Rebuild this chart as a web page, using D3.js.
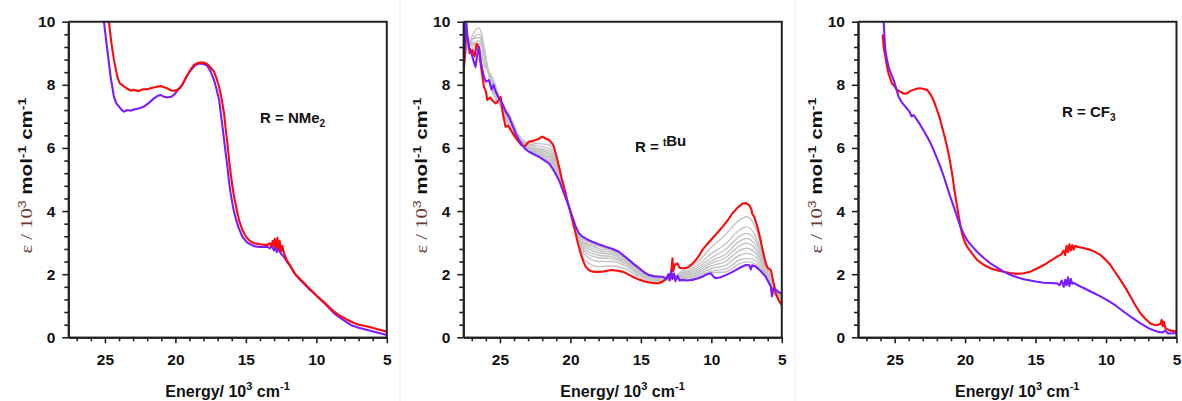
<!DOCTYPE html>
<html>
<head>
<meta charset="utf-8">
<script src="https://cdn.jsdelivr.net/npm/d3@7"></script>
<style>
  body { margin: 0; background: #fff; }
  svg { display: block; }
</style>
</head>
<body>
<svg id="chart" width="1182" height="401"></svg>
<script>
// ---- Absorption spectra: energy (10^3 cm^-1) vs epsilon (10^3 mol^-1 cm^-1) ----

// R = NMe2
const nme2Red = [[24.85,10.4],[24.72,10.0],[24.55,9.35],[24.36,8.79],[24.12,8.26],[23.95,8.05],[23.77,7.99],[23.5,7.9],[23.2,7.82],[22.94,7.84],[22.6,7.8],[22.3,7.86],[22.0,7.86],[21.7,7.9],[21.4,7.93],[21.05,7.96],[20.8,7.92],[20.57,7.89],[20.3,7.82],[20.1,7.81],[19.85,7.84],[19.63,7.92],[19.4,8.1],[19.15,8.31],[18.9,8.5],[18.68,8.63],[18.45,8.69],[18.2,8.71],[17.95,8.7],[17.73,8.65],[17.5,8.55],[17.26,8.42],[17.08,8.2],[16.9,7.94],[16.72,7.55],[16.55,7.1],[16.43,6.6],[16.31,6.15],[16.2,5.65],[16.08,5.2],[15.96,4.8],[15.84,4.46],[15.65,4.05],[15.49,3.72],[15.25,3.4],[15.0,3.19],[14.7,3.05],[14.42,2.98],[14.0,2.95],[13.7,2.93],[13.47,2.93],[13.3,2.98],[13.2,2.88],[13.1,3.05],[13.0,2.9],[12.95,3.12],[12.85,2.85],[12.76,3.15],[12.68,2.8],[12.6,3.05],[12.5,2.72],[12.42,2.9],[12.29,2.66],[12.1,2.45],[11.82,2.24],[11.5,2.0],[11.1,1.82],[10.5,1.55],[9.92,1.29],[9.3,1.05],[8.74,0.81],[8.2,0.65],[7.56,0.5],[7.0,0.4],[6.37,0.34],[5.7,0.26],[5.0,0.18]];
const nme2Violet = [[25.2,10.5],[25.07,10.0],[24.95,9.55],[24.83,9.1],[24.6,8.26],[24.36,7.62],[24.2,7.42],[24.0,7.31],[23.8,7.2],[23.65,7.15],[23.4,7.2],[23.2,7.18],[22.94,7.22],[22.6,7.25],[22.23,7.31],[21.9,7.42],[21.52,7.57],[21.25,7.65],[21.05,7.68],[20.8,7.62],[20.57,7.6],[20.3,7.62],[20.1,7.68],[19.8,7.85],[19.5,8.0],[19.2,8.28],[18.9,8.47],[18.6,8.62],[18.3,8.68],[18.0,8.66],[17.73,8.6],[17.5,8.42],[17.26,8.15],[17.08,7.86],[16.9,7.52],[16.75,7.0],[16.6,6.46],[16.45,5.9],[16.31,5.41],[16.2,4.95],[16.08,4.56],[15.9,4.1],[15.72,3.77],[15.5,3.45],[15.25,3.19],[14.9,3.0],[14.42,2.89],[14.0,2.86],[13.47,2.87],[13.3,2.82],[13.15,2.9],[13.0,2.75],[12.9,2.88],[12.8,2.7],[12.7,2.82],[12.53,2.66],[12.3,2.55],[12.1,2.4],[11.82,2.24],[11.5,2.0],[11.1,1.8],[10.5,1.52],[9.92,1.29],[9.3,1.02],[8.74,0.76],[8.2,0.58],[7.56,0.39],[7.0,0.3],[6.37,0.23],[5.7,0.15],[5.0,0.07]];

// R = tBu
const tbuRed = [[27.6,8.3],[27.5,8.8],[27.4,9.6],[27.3,9.5],[27.15,9.0],[26.96,9.1],[26.8,8.9],[26.65,9.3],[26.5,9.2],[26.35,8.6],[26.14,7.94],[26.0,7.8],[25.9,7.52],[25.7,7.6],[25.55,7.52],[25.3,7.41],[25.1,7.5],[24.95,7.62],[24.8,7.1],[24.6,6.67],[24.4,6.7],[24.24,6.57],[24.0,6.4],[23.77,6.25],[23.5,6.1],[23.3,6.04],[23.1,6.12],[22.94,6.2],[22.7,6.22],[22.47,6.25],[22.2,6.3],[22.0,6.36],[21.75,6.3],[21.52,6.25],[21.3,6.15],[21.17,6.04],[21.0,5.75],[20.81,5.41],[20.6,5.0],[20.34,4.56],[20.15,4.2],[19.98,3.93],[19.8,3.6],[19.63,3.29],[19.45,2.95],[19.27,2.66],[19.1,2.42],[18.92,2.24],[18.7,2.13],[18.44,2.08],[18.1,2.07],[17.73,2.08],[17.4,2.11],[17.02,2.13],[16.7,2.11],[16.31,2.08],[16.0,2.02],[15.6,1.92],[15.1,1.82],[14.66,1.76],[14.3,1.73],[13.95,1.71],[13.7,1.72],[13.47,1.76],[13.2,1.85],[13.0,1.95],[12.85,2.05],[12.76,2.5],[12.7,2.1],[12.6,2.3],[12.41,2.34],[12.25,2.2],[12.05,2.19],[11.8,2.2],[11.58,2.24],[11.35,2.33],[11.1,2.45],[10.85,2.6],[10.63,2.77],[10.3,2.95],[9.92,3.14],[9.55,3.32],[9.21,3.5],[8.85,3.7],[8.5,3.93],[8.15,4.1],[7.79,4.24],[7.55,4.25],[7.32,4.19],[7.15,4.05],[7.1,3.92],[6.96,3.82],[6.8,3.6],[6.61,3.29],[6.4,2.85],[6.14,2.34],[6.0,2.2],[5.85,2.15],[5.78,2.13],[5.6,1.75],[5.43,1.39],[5.2,1.15],[5.0,1.02]];
const tbuViolet = [[27.6,8.6],[27.5,9.1],[27.45,9.6],[27.39,10.0],[27.3,9.5],[27.2,9.2],[27.08,9.1],[26.9,8.8],[26.73,8.57],[26.6,9.0],[26.5,9.2],[26.35,8.7],[26.14,8.26],[26.0,8.1],[25.78,8.15],[25.6,7.85],[25.45,8.0],[25.3,7.78],[25.1,7.6],[24.83,7.41],[24.6,7.15],[24.36,6.99],[24.1,6.7],[23.89,6.46],[23.65,6.25],[23.41,6.09],[23.2,5.97],[22.94,5.88],[22.6,5.8],[22.23,5.72],[21.9,5.62],[21.52,5.51],[21.2,5.3],[20.81,4.98],[20.45,4.55],[20.1,4.14],[19.85,3.8],[19.63,3.51],[19.4,3.3],[19.15,3.19],[18.8,3.1],[18.44,3.03],[18.0,2.95],[17.5,2.87],[17.0,2.8],[16.55,2.71],[16.2,2.58],[15.84,2.45],[15.5,2.32],[15.13,2.19],[14.8,2.07],[14.42,1.97],[14.0,1.93],[13.47,1.92],[13.2,1.85],[13.05,2.0],[12.95,1.8],[12.85,2.1],[12.76,1.85],[12.65,2.02],[12.55,1.78],[12.4,1.95],[12.25,1.8],[12.05,1.82],[11.7,1.8],[11.34,1.82],[11.0,1.86],[10.63,1.92],[10.3,2.0],[10.04,2.03],[9.85,1.92],[9.69,1.87],[9.35,1.9],[8.98,1.97],[8.6,2.05],[8.27,2.13],[7.9,2.22],[7.56,2.29],[7.3,2.28],[7.2,2.15],[7.1,2.28],[6.85,2.24],[6.5,2.1],[6.14,1.92],[5.95,1.75],[5.78,1.61],[5.7,1.3],[5.6,1.55],[5.43,1.5],[5.2,1.42],[5.0,1.39]];

// R = tBu, intermediate spectra recorded during the conversion (one row per spectrum)
const tbuGrayEnergy = [27.5,26.5,25.5,24.5,23.5,22.5,21.5,20.8,20.0,19.5,19.0,18.0,17.0,16.0,15.0,14.0,13.0,12.0,11.0,10.0,9.0,8.0,7.5,7.0,6.5,6.0,5.5,5.0];
const tbuGraySpectra = [
  [9.3,9.5,7.8,7.0,6.25,6.15,6.10,5.33,3.97,3.15,2.45,2.24,2.26,2.15,1.87,1.76,1.82,2.12,2.38,2.85,3.25,3.72,3.82,3.60,2.95,2.15,1.55,1.10],
  [9.6,9.0,8.1,6.8,6.20,6.08,5.98,5.27,3.97,3.20,2.62,2.40,2.40,2.24,1.93,1.79,1.84,2.06,2.28,2.65,2.95,3.40,3.50,3.32,2.80,2.10,1.45,1.30],
  [8.9,9.8,7.7,7.2,6.30,6.02,5.90,5.22,3.98,3.23,2.72,2.52,2.49,2.30,1.97,1.82,1.85,2.02,2.20,2.52,2.78,3.20,3.29,3.15,2.70,2.05,1.35,1.20],
  [9.4,9.2,8.0,6.9,6.15,5.97,5.83,5.18,3.98,3.26,2.80,2.60,2.55,2.35,2.01,1.84,1.86,1.98,2.14,2.42,2.63,3.05,3.13,3.00,2.60,2.00,1.60,1.40],
  [9.1,9.4,7.9,7.1,6.25,5.93,5.77,5.14,3.99,3.29,2.88,2.68,2.61,2.40,2.04,1.86,1.87,1.95,2.08,2.34,2.52,2.90,2.98,2.87,2.50,1.98,1.50,1.25],
  [9.7,8.8,8.2,6.85,6.20,5.89,5.71,5.11,3.99,3.31,2.94,2.75,2.66,2.44,2.07,1.87,1.88,1.92,2.03,2.26,2.40,2.75,2.82,2.73,2.42,1.95,1.40,1.35],
  [9.0,9.6,7.8,7.0,6.30,5.86,5.65,5.08,4.00,3.33,3.00,2.82,2.71,2.48,2.10,1.89,1.88,1.89,1.98,2.18,2.28,2.60,2.66,2.60,2.32,1.92,1.55,1.20],
  [9.5,9.1,8.0,7.15,6.20,5.83,5.60,5.04,4.00,3.36,3.06,2.88,2.75,2.51,2.12,1.90,1.89,1.86,1.93,2.10,2.16,2.45,2.50,2.46,2.24,1.90,1.45,1.30],
  [9.2,9.3,7.9,6.95,6.25,5.80,5.55,5.01,4.00,3.38,3.10,2.93,2.78,2.53,2.14,1.91,1.90,1.84,1.89,2.05,2.07,2.33,2.39,2.35,2.17,1.88,1.50,1.15]
];

// R = CF3
const cf3Red = [[25.85,9.6],[25.78,9.2],[25.66,8.9],[25.54,8.57],[25.43,8.35],[25.31,8.2],[25.2,8.05],[25.07,7.99],[24.85,7.85],[24.6,7.78],[24.35,7.72],[24.12,7.73],[23.9,7.8],[23.65,7.84],[23.4,7.88],[23.18,7.89],[22.95,7.87],[22.7,7.84],[22.5,7.72],[22.35,7.62],[22.15,7.4],[21.99,7.2],[21.8,6.95],[21.64,6.67],[21.45,6.35],[21.28,6.04],[21.1,5.65],[20.93,5.2],[20.75,4.65],[20.57,4.14],[20.4,3.7],[20.22,3.29],[20.05,3.05],[19.86,2.87],[19.5,2.65],[19.15,2.45],[18.7,2.3],[18.2,2.19],[17.7,2.12],[17.26,2.08],[16.8,2.04],[16.31,2.01],[15.85,2.03],[15.37,2.08],[14.9,2.18],[14.42,2.29],[13.95,2.42],[13.47,2.56],[13.2,2.62],[13.0,2.75],[12.9,2.6],[12.8,2.9],[12.7,2.7],[12.6,2.95],[12.5,2.75],[12.4,2.92],[12.3,2.78],[12.2,2.9],[12.05,2.87],[11.6,2.83],[11.1,2.77],[10.75,2.7],[10.4,2.61],[10.05,2.47],[9.69,2.29],[9.35,2.06],[8.98,1.82],[8.6,1.55],[8.27,1.29],[7.9,1.0],[7.56,0.76],[7.2,0.58],[6.85,0.44],[6.6,0.4],[6.37,0.39],[6.15,0.42],[6.05,0.55],[5.98,0.35],[5.9,0.5],[5.78,0.29],[5.5,0.22],[5.0,0.18]];
const cf3Violet = [[25.8,10.3],[25.78,10.0],[25.72,9.5],[25.66,9.1],[25.55,8.8],[25.43,8.57],[25.25,8.35],[25.07,8.15],[24.9,7.9],[24.72,7.62],[24.5,7.45],[24.24,7.31],[23.95,7.15],[23.8,7.0],[23.65,7.04],[23.4,6.88],[23.18,6.73],[22.95,6.55],[22.7,6.36],[22.45,6.15],[22.23,5.93],[22.0,5.68],[21.76,5.41],[21.5,5.08],[21.28,4.77],[21.05,4.45],[20.81,4.14],[20.57,3.82],[20.34,3.51],[20.1,3.27],[19.86,3.08],[19.5,2.88],[19.15,2.71],[18.7,2.52],[18.2,2.34],[17.7,2.2],[17.26,2.08],[16.8,1.98],[16.31,1.9],[15.85,1.84],[15.37,1.8],[14.9,1.76],[14.42,1.73],[13.95,1.72],[13.47,1.71],[13.3,1.65],[13.15,1.8],[13.0,1.6],[12.9,1.82],[12.8,1.65],[12.7,1.9],[12.6,1.62],[12.5,1.85],[12.4,1.7],[12.25,1.72],[12.05,1.66],[11.82,1.61],[11.45,1.53],[11.1,1.45],[10.5,1.32],[9.92,1.18],[9.3,1.0],[8.74,0.81],[8.15,0.62],[7.56,0.44],[6.95,0.28],[6.37,0.18],[6.0,0.15],[5.8,0.22],[5.6,0.12],[5.0,0.13]];

// Axis ticks
const xMajorTicks = [25, 20, 15, 10, 5];
const xMinorTicks = [27, 26, 24, 23, 22, 21, 19, 18, 17, 16, 14, 13, 12, 11, 9, 8, 7, 6];
const yMajorTicks = [0, 2, 4, 6, 8, 10];
const yMinorTicks = [0.4, 0.8, 1.2, 1.6, 2.4, 2.8, 3.2, 3.6, 4.4, 4.8, 5.2, 5.6, 6.4, 6.8, 7.2, 7.6, 8.4, 8.8, 9.2, 9.6];
const energyDomain = [27.6, 5];
const epsDomain = [0, 10];

// ---- layout ----
const svg = d3.select("#chart");
const FONT = "'Liberation Sans', Arial, sans-serif";
const plotTop = 21.7, plotW = 318.5, plotH = 315.6;
const RED = "#ff0a0a", VIOLET = "#7a1cff", GRAY = "#c4c4c4";
const yTitleLength = 156;

const panels = [
  { left: 68.3,  label: ["R = NMe", {sub: "2"}], labelX: 260, labelY: 123,
    gray: null, order: [[nme2Violet, VIOLET], [nme2Red, RED]] },
  { left: 463.3, label: ["R = ", {sup: "t"}, "Bu"], labelX: 635, labelY: 152,
    gray: tbuGraySpectra, order: [[tbuRed, RED], [tbuViolet, VIOLET]] },
  { left: 858,   label: ["R = CF", {sub: "3"}], labelX: 1062, labelY: 117,
    gray: null, order: [[cf3Red, RED], [cf3Violet, VIOLET]] }
];

// faint panel separators
[400, 795].forEach(x => {
  svg.append("line").attr("x1", x).attr("x2", x).attr("y1", 0).attr("y2", 401)
    .attr("stroke", "#ececec").attr("stroke-width", 1);
});

panels.forEach((p, i) => {
  const g = svg.append("g").attr("transform", `translate(${p.left},${plotTop})`);
  const x = d3.scaleLinear().domain(energyDomain).range([0, plotW]);
  const y = d3.scaleLinear().domain(epsDomain).range([plotH, 0]);

  const clipId = "clip" + i;
  g.append("clipPath").attr("id", clipId)
    .append("rect").attr("x", 0).attr("y", 0).attr("width", plotW).attr("height", plotH);

  const line = d3.line().x(d => x(d[0])).y(d => y(d[1])).curve(d3.curveLinear);
  const plot = g.append("g").attr("clip-path", `url(#${clipId})`);

  if (p.gray) {
    p.gray.forEach(row => {
      plot.append("path")
        .datum(row.map((v, k) => [tbuGrayEnergy[k], v]))
        .attr("d", d3.line().x(d => x(d[0])).y(d => y(d[1])).curve(d3.curveMonotoneX))
        .attr("fill", "none").attr("stroke", GRAY).attr("stroke-width", 1.4);
    });
  }
  p.order.forEach(([data, color]) => {
    plot.append("path").datum(data).attr("d", line)
      .attr("fill", "none").attr("stroke", color).attr("stroke-width", 2.1)
      .attr("stroke-linejoin", "round");
  });

  // frame (top and right)
  g.append("path")
    .attr("d", `M0,0H${plotW}V${plotH}`)
    .attr("fill", "none").attr("stroke", "#222").attr("stroke-width", 2);

  // x axis
  const xMinor = g.append("g").attr("transform", `translate(0,${plotH})`)
    .call(d3.axisBottom(x).tickValues(xMinorTicks).tickSize(4).tickSizeOuter(0).tickFormat(""));
  const xMajor = g.append("g").attr("transform", `translate(0,${plotH})`)
    .call(d3.axisBottom(x).tickValues(xMajorTicks).tickSize(6).tickSizeOuter(0).tickPadding(11).tickFormat(d3.format("d")));
  // y axis
  const yMinor = g.append("g")
    .call(d3.axisLeft(y).tickValues(yMinorTicks).tickSize(4).tickSizeOuter(0).tickFormat(""));
  const yMajor = g.append("g")
    .call(d3.axisLeft(y).tickValues(yMajorTicks).tickSize(6).tickSizeOuter(0).tickPadding(7).tickFormat(d3.format("d")));

  [xMinor, xMajor, yMinor, yMajor].forEach(a => {
    a.selectAll(".domain").attr("stroke", "#222").attr("stroke-width", 2);
    a.selectAll(".tick line").attr("stroke", "#222").attr("stroke-width", 1.6);
    a.selectAll(".tick text").attr("font-family", FONT).attr("font-size", 15.5)
      .attr("font-weight", "bold").attr("fill", "#111");
  });

  // x title
  const xt = svg.append("text")
    .attr("x", p.left + plotW / 2).attr("y", 397)
    .attr("text-anchor", "middle").attr("font-family", FONT)
    .attr("font-size", 16).attr("font-weight", "bold").attr("fill", "#111");
  xt.append("tspan").text("Energy/ 10");
  xt.append("tspan").attr("dy", -7).attr("font-size", 11).text("3");
  xt.append("tspan").attr("dy", 7).text(" cm");
  xt.append("tspan").attr("dy", -7).attr("font-size", 11).text("-1");

  // y title, stretched along its length
  const ytG = svg.append("g");
  const yt = ytG.append("text")
    .attr("text-anchor", "middle").attr("font-family", FONT)
    .attr("font-size", 16).attr("fill", "#111");
  yt.append("tspan").attr("font-family", "'Liberation Serif', 'DejaVu Serif', serif")
    .attr("fill", "#6a3a30").text("ε / 10");
  yt.append("tspan").attr("dy", -6).attr("font-size", 11).attr("fill", "#6a3a30").text("3");
  yt.append("tspan").attr("dy", 6).attr("font-weight", "bold").text(" mol");
  yt.append("tspan").attr("dy", -6).attr("font-size", 11).attr("font-weight", "bold").text("-1");
  yt.append("tspan").attr("dy", 6).attr("font-weight", "bold").text(" cm");
  yt.append("tspan").attr("dy", -6).attr("font-size", 11).attr("font-weight", "bold").text("-1");
  const natural = yt.node().getComputedTextLength();
  const sx = natural > 0 ? yTitleLength / natural : 1;
  ytG.attr("transform", `translate(${p.left - 36},${plotTop + plotH / 2 - 4}) rotate(-90) scale(${sx},1)`);

  // substituent label
  const lt = svg.append("text").attr("x", p.labelX).attr("y", p.labelY)
    .attr("font-family", FONT).attr("font-size", 15).attr("font-weight", "bold").attr("fill", "#111");
  p.label.forEach(part => {
    if (typeof part === "string") {
      lt.append("tspan").text(part);
    } else if (part.sub) {
      lt.append("tspan").attr("dy", 4).attr("font-size", 10).text(part.sub);
      lt.append("tspan").attr("dy", -4).text("");
    } else if (part.sup) {
      lt.append("tspan").attr("dy", -6).attr("font-size", 10).text(part.sup);
      lt.append("tspan").attr("dy", 6).text("");
    }
  });
});
</script>
</body>
</html>
